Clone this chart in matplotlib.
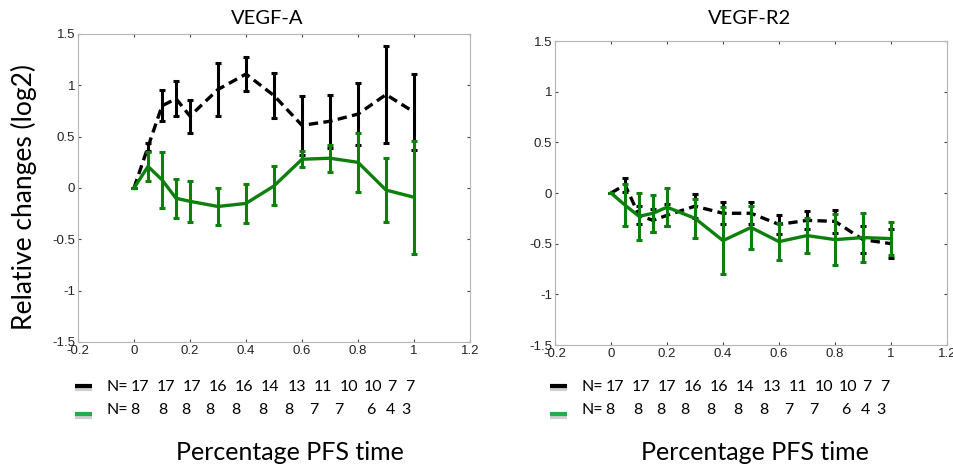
import matplotlib
matplotlib.use("Agg")
import matplotlib.pyplot as plt
from matplotlib.lines import Line2D

# percentage of PFS time
pfs = [0, 0.05, 0.1, 0.15, 0.2, 0.3, 0.4, 0.5, 0.6, 0.7, 0.8, 0.9, 1.0]

# VEGF-A, black (dashed) group
vegfa_black = [0, 0.40, 0.80, 0.87, 0.70, 0.96, 1.11, 0.90, 0.61, 0.65, 0.72, 0.91, 0.74]
vegfa_black_err = [0, 0.04, 0.15, 0.17, 0.16, 0.26, 0.17, 0.22, 0.29, 0.26, 0.30, 0.47, 0.37]
# VEGF-A, green group
vegfa_green = [0, 0.21, 0.08, -0.10, -0.13, -0.18, -0.15, 0.02, 0.28, 0.29, 0.25, -0.02, -0.09]
vegfa_green_err = [0, 0.14, 0.27, 0.19, 0.20, 0.18, 0.19, 0.19, 0.08, 0.13, 0.29, 0.31, 0.55]

# VEGF-R2, black (dashed) group
vegfr2_black = [0, 0.08, -0.22, -0.27, -0.22, -0.13, -0.20, -0.20, -0.31, -0.27, -0.28, -0.46, -0.50]
vegfr2_black_err = [0, 0.07, 0.09, 0.11, 0.11, 0.12, 0.11, 0.11, 0.09, 0.09, 0.11, 0.13, 0.14]
# VEGF-R2, green group
vegfr2_green = [0, -0.12, -0.23, -0.20, -0.14, -0.25, -0.47, -0.34, -0.48, -0.42, -0.46, -0.44, -0.45]
vegfr2_green_err = [0, 0.21, 0.23, 0.18, 0.19, 0.19, 0.33, 0.21, 0.18, 0.17, 0.25, 0.24, 0.16]

# number of patients per time point
n_black = [17, 17, 17, 16, 16, 14, 13, 11, 10, 10, 7, 7]
n_green = [8, 8, 8, 8, 8, 8, 8, 7, 7, 6, 4, 3]

xticks = [-0.2, 0, 0.2, 0.4, 0.6, 0.8, 1, 1.2]
yticks = [-1.5, -1, -0.5, 0, 0.5, 1, 1.5]

GREEN = '#0b800b'
LEGEND_GREEN = '#1fae48'
W, H = 954, 467

# where the typed N counts sit (pixels from the left panel's figure edge)
cols_black = [140, 166, 192, 218, 244, 270, 297, 323, 349, 373, 392, 410]
cols_green = [135, 163, 186, 210, 236, 263, 289, 314, 339, 371, 390, 406]

fig = plt.figure(figsize=(W / 100, H / 100), dpi=100)


def fx(px):
	return px / W


def fy(py):
	return 1 - py / H


def make_panel(rect, title, title_x, black, black_err, green, green_err, shift, label_x):
	ax = fig.add_axes(rect)
	ax.errorbar(pfs, black, yerr=black_err, color='black', lw=2.4, ls=(0, (2.8, 1.6)),
		elinewidth=2.2, capsize=2.2, capthick=2.2, zorder=2)
	ax.errorbar(pfs, green, yerr=green_err, color=GREEN, lw=2.4,
		elinewidth=2.2, capsize=2.2, capthick=2.2, zorder=3)
	ax.set_xlim(-0.2, 1.2)
	ax.set_ylim(-1.5, 1.5)
	ax.set_xticks(xticks)
	ax.set_yticks(yticks)
	ax.set_xticklabels(['%g' % t for t in xticks])
	ax.set_yticklabels(['%g' % t for t in yticks])
	ax.tick_params(direction='in', length=2, width=0.8, color='#444444', top=True, right=True,
		labelsize=9.5, pad=2, labelcolor='#222222')
	for lab in ax.get_xticklabels() + ax.get_yticklabels():
		lab.set_family('Liberation Sans')
	for s in ax.spines.values():
		s.set_color('#b5b5b5')
		s.set_linewidth(0.8)

	fig.text(fx(title_x), fy(19), title, ha='center', va='center', fontsize=14.5, family='Lato')

	# legend marks with their grey shadow
	for py, c in [(386, 'black'), (414, LEGEND_GREEN)]:
		fig.add_artist(Line2D([fx(75 + shift), fx(92 + shift)], [fy(py + 2.5), fy(py + 2.5)],
			color='#bbbbbb', lw=3, solid_capstyle='butt', alpha=0.7))
		fig.add_artist(Line2D([fx(75 + shift), fx(92 + shift)], [fy(py), fy(py)], color=c, lw=3,
			solid_capstyle='butt'))

	# N rows
	for py, cols, counts in [(387, cols_black, n_black), (410, cols_green, n_green)]:
		fig.text(fx(107 + shift), fy(py), 'N=', ha='left', va='center', fontsize=11.5, family='Lato')
		for cx, n in zip(cols, counts):
			fig.text(fx(cx + shift), fy(py), str(n), ha='center', va='center', fontsize=11.5,
				family='Lato')
	fig.text(fx(label_x), fy(452), 'Percentage PFS time', ha='center', va='center',
		fontsize=18, family='Lato')
	return ax


ax1 = make_panel([fx(78), fy(342), fx(470 - 78), (342 - 34) / H], 'VEGF-A', 267,
	vegfa_black, vegfa_black_err, vegfa_green, vegfa_green_err, 0, 290)
ax2 = make_panel([fx(555), fy(345), fx(947 - 555), (345 - 41) / H], 'VEGF-R2', 750,
	vegfr2_black, vegfr2_black_err, vegfr2_green, vegfr2_green_err, 475, 755)

fig.text(fx(24), fy(197), 'Relative changes (log2)', rotation=90, ha='center', va='center',
	fontsize=19, family='Lato')

fig.savefig('out.png', dpi=100)
